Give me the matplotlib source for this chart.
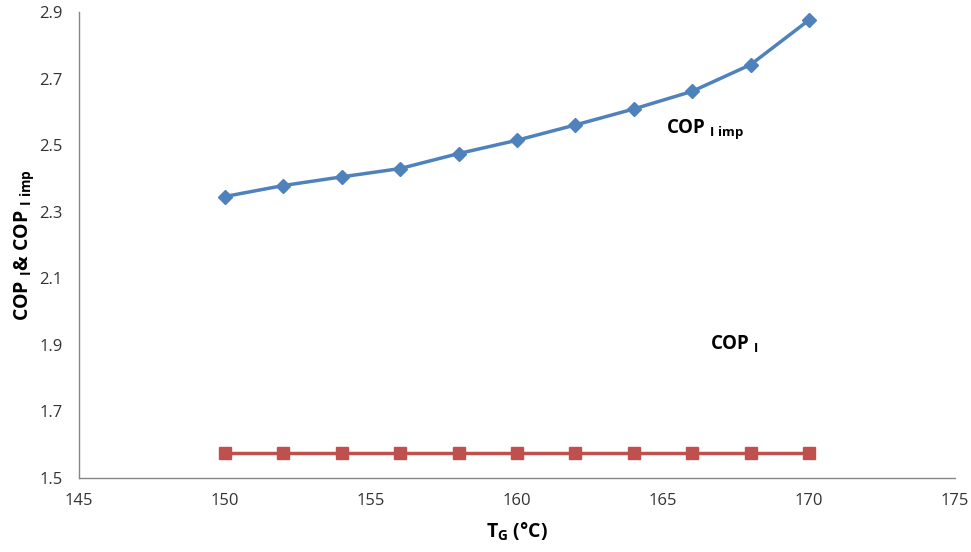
import matplotlib
matplotlib.use("Agg")
import matplotlib.pyplot as plt

plt.rcParams['font.family'] = ['Open Sans', 'DejaVu Sans']
plt.rcParams['mathtext.fontset'] = 'custom'
plt.rcParams['mathtext.rm'] = 'Open Sans'
plt.rcParams['mathtext.bf'] = 'Open Sans:bold'
plt.rcParams['mathtext.it'] = 'Open Sans:italic'

tg = [150, 152, 154, 156, 158, 160, 162, 164, 166, 168, 170]
cop_imp = [2.346, 2.379, 2.405, 2.430, 2.475, 2.515, 2.561, 2.609, 2.662, 2.742, 2.876]
cop_i = [1.575] * 11

xticks = [145, 150, 155, 160, 165, 170, 175]
yticks = [1.5, 1.7, 1.9, 2.1, 2.3, 2.5, 2.7, 2.9]

fig = plt.figure(figsize=(9.71, 5.52), dpi=100)
ax = fig.add_axes([0.0814, 0.134, 0.902, 0.844])

ax.plot(tg, cop_imp, color='#4F81BD', lw=2.5, marker='D', markersize=7, zorder=3)
ax.plot(tg, cop_i, color='#C0504D', lw=2.5, marker='s', markersize=9, zorder=3)

ax.set_xlim(145, 175)
ax.set_ylim(1.5, 2.9)
ax.set_xticks(xticks)
ax.set_yticks(yticks)
ax.set_xticklabels([str(v) for v in xticks])
ax.set_yticklabels([f"{v:.1f}" for v in yticks])
ax.tick_params(length=0, labelsize=12, colors='#333333')
ax.tick_params(axis='x', pad=11)
ax.tick_params(axis='y', pad=12)

for s in ['top', 'right']:
    ax.spines[s].set_visible(False)
for s in ['left', 'bottom']:
    ax.spines[s].set_color('#868686')
    ax.spines[s].set_linewidth(1.0)

ax.set_xlabel(r'T$_\mathbf{G}$ (°C)', fontsize=14, fontweight='bold', labelpad=8)
ax.set_ylabel(r'COP $_{\mathbf{I}}$& COP $_{\mathbf{I\ imp}}$', fontsize=14, fontweight='bold', labelpad=2)

ax.text(165.1, 2.548, r'COP $_{\mathbf{I\ imp}}$', fontsize=13.5, fontweight='bold', va='center')
ax.text(166.6, 1.905, r'COP $_{\mathbf{I}}$', fontsize=13.5, fontweight='bold', va='center')

fig.savefig('out.png', dpi=100)
